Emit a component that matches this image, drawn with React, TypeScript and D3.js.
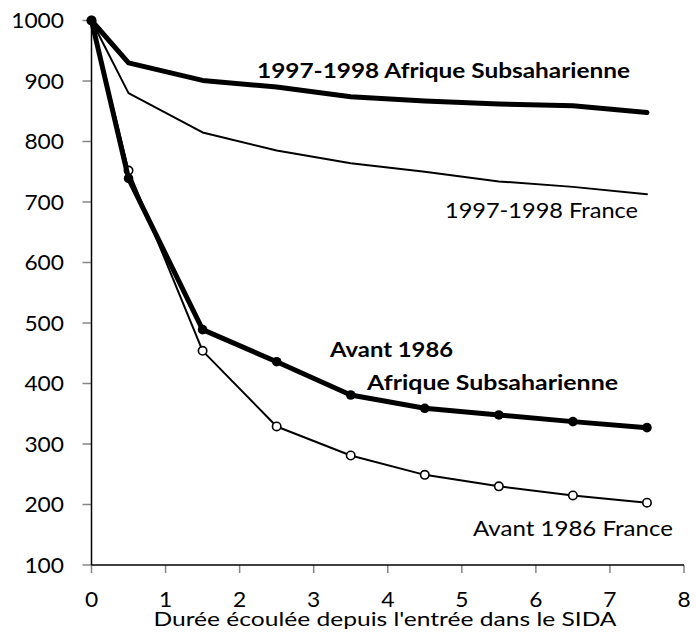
import * as d3 from 'd3'

const years = [0, 0.5, 1.5, 2.5, 3.5, 4.5, 5.5, 6.5, 7.5]
const afrique9798 = [1000, 930, 901, 890, 874, 867, 862, 859, 848]
const france9798 = [1000, 880, 815, 785, 764, 750, 734, 725, 713]
const afriqueAvant86 = [1000, 739, 489, 436, 381, 359, 348, 337, 327]
const franceAvant86 = [1000, 752, 454, 329, 281, 249, 230, 215, 203]
const xTicks = [0, 1, 2, 3, 4, 5, 6, 7, 8]
const yTicks = [100, 200, 300, 400, 500, 600, 700, 800, 900, 1000]

type Pt = { t: number; v: number }

const toPoints = (vals: number[]): Pt[] => vals.map((v, i) => ({ t: years[i], v }))

// reference font is wider than Lato for its height, so stretch glyphs a bit
const stretch = 1.11

function TickLabel({ x, y, anchor, children }: { x: number; y: number; anchor: string; children: number }) {
  return (
    <text
      transform={`translate(${x},${y}) scale(${stretch},1)`}
      textAnchor={anchor}
      fontSize="20.5"
      fill="#000"
    >
      {children}
    </text>
  )
}

function Label({
  x,
  y,
  len,
  bold,
  size = 21,
  children,
}: {
  x: number
  y: number
  len: number
  bold?: boolean
  size?: number
  children: string
}) {
  return (
    <text
      x={x}
      y={y}
      fontSize={size}
      fontWeight={bold ? 'bold' : 'normal'}
      textLength={len}
      lengthAdjust="spacingAndGlyphs"
      fill="#000"
    >
      {children}
    </text>
  )
}

export default function App() {
  const width = 696
  const height = 641
  const margin = { top: 20.5, right: 12, bottom: 76, left: 91.5 }
  const font = 'Lato, "Open Sans", sans-serif'
  const x = d3.scaleLinear().domain([0, 8]).range([margin.left, width - margin.right])
  const y = d3.scaleLinear().domain([100, 1000]).range([height - margin.bottom, margin.top])
  const line = d3
    .line<Pt>()
    .x((p) => x(p.t))
    .y((p) => y(p.v))

  const series = [
    { pts: toPoints(france9798), w: 2, marker: 'none' },
    { pts: toPoints(afrique9798), w: 5, marker: 'none' },
    { pts: toPoints(franceAvant86), w: 2, marker: 'open' },
    { pts: toPoints(afriqueAvant86), w: 5, marker: 'filled' },
  ]

  return (
    <svg
      width={width}
      height={height}
      style={{ position: 'absolute', left: 0, top: 0, background: '#fff' }}
      fontFamily={font}
    >
      {yTicks.map((tick) => (
        <g key={tick}>
          <line x1={margin.left - 9} x2={margin.left} y1={y(tick)} y2={y(tick)} stroke="#868686" strokeWidth="1.5" />
          <TickLabel x={64} y={y(tick) + 7.5} anchor="end">
            {tick}
          </TickLabel>
        </g>
      ))}

      {xTicks.map((tick) => (
        <g key={tick}>
          <line x1={x(tick)} x2={x(tick)} y1={y(100)} y2={y(100) + 8} stroke="#868686" strokeWidth="1.5" />
          <TickLabel x={x(tick)} y={606.5} anchor="middle">
            {tick}
          </TickLabel>
        </g>
      ))}

      <line x1={x(0)} x2={x(0)} y1={y(1000) - 2} y2={y(100)} stroke="#000" strokeWidth="1.5" />
      <line x1={x(0)} x2={x(8)} y1={y(100)} y2={y(100)} stroke="#000" strokeWidth="1.5" />

      <Label x={153.5} y={625.5} len={463} size={20}>
        Durée écoulée depuis l'entrée dans le SIDA
      </Label>

      {series.map((s, i) => (
        <g key={i}>
          <path d={line(s.pts) ?? ''} fill="none" stroke="#000" strokeWidth={s.w} strokeLinejoin="round" strokeLinecap="round" />
          {s.marker === 'open' &&
            s.pts.map((p) => (
              <circle key={p.t} cx={x(p.t)} cy={y(p.v)} r="4.2" fill="#fff" stroke="#000" strokeWidth="1.6" />
            ))}
          {s.marker === 'filled' &&
            s.pts.map((p) => <circle key={p.t} cx={x(p.t)} cy={y(p.v)} r="4.8" fill="#000" />)}
        </g>
      ))}

      <Label x={257} y={78} len={373} bold>
        1997-1998 Afrique Subsaharienne
      </Label>
      <Label x={445} y={218} len={193}>
        1997-1998 France
      </Label>
      <Label x={330} y={357} len={123} bold>
        Avant 1986
      </Label>
      <Label x={367} y={390} len={251} bold>
        Afrique Subsaharienne
      </Label>
      <Label x={473} y={536} len={200}>
        Avant 1986 France
      </Label>
    </svg>
  )
}
